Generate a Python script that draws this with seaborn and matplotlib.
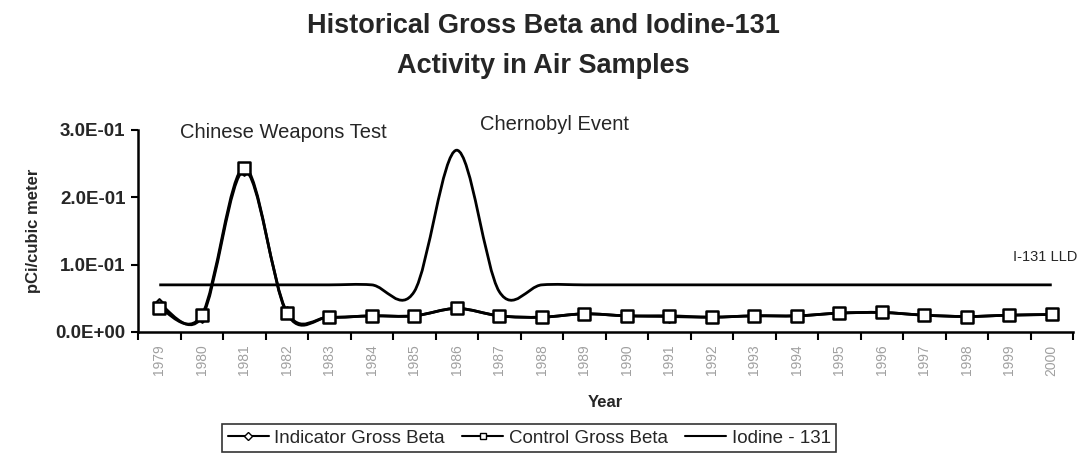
import numpy as np
import pandas as pd
import matplotlib
matplotlib.use("Agg")
import matplotlib.pyplot as plt
import seaborn as sns
from matplotlib.path import Path
from matplotlib.patches import PathPatch
from matplotlib.lines import Line2D

years = [str(y) for y in range(1979, 2001)]
indicator_beta = [0.042, 0.022, 0.240, 0.030, 0.022, 0.024, 0.024, 0.035, 0.024, 0.022, 0.027,
                  0.024, 0.023, 0.022, 0.024, 0.024, 0.028, 0.029, 0.025, 0.023, 0.025, 0.026]
control_beta = [0.036, 0.025, 0.244, 0.028, 0.022, 0.024, 0.024, 0.035, 0.024, 0.022, 0.027,
                0.024, 0.024, 0.022, 0.024, 0.024, 0.028, 0.029, 0.025, 0.023, 0.025, 0.026]
iodine_131 = [0.070, 0.070, 0.070, 0.070, 0.070, 0.070, 0.060, 0.270, 0.060, 0.070, 0.070,
              0.070, 0.070, 0.070, 0.070, 0.070, 0.070, 0.070, 0.070, 0.070, 0.070, 0.070]
y_ticks = [0.0, 0.1, 0.2, 0.3]

sns.set_theme(style="white")
plt.rcParams["font.family"] = ["Liberation Sans", "DejaVu Sans"]

df = pd.DataFrame({"Year": years, "Indicator": indicator_beta,
                   "Control": control_beta, "Iodine": iodine_131})
df["pos"] = np.arange(len(df))

fig = plt.figure(figsize=(10.86, 4.68), dpi=100)
ax = fig.add_axes([138 / 1086, 1 - 332 / 468, (1073 - 138) / 1086, (332 - 130) / 468])


def smooth_patch(xs, ys, **kw):
    """Excel-style smoothed line: cubic Bezier segments through the points."""
    xs = np.asarray(xs, float)
    ys = np.asarray(ys, float)
    n = len(xs)
    verts = [(xs[0], ys[0])]
    codes = [Path.MOVETO]
    for i in range(n - 1):
        a = max(i - 1, 0)
        d = min(i + 2, n - 1)
        c1 = (xs[i] + (xs[i + 1] - xs[a]) / 6, ys[i] + (ys[i + 1] - ys[a]) / 6)
        c2 = (xs[i + 1] - (xs[d] - xs[i]) / 6, ys[i + 1] - (ys[d] - ys[i]) / 6)
        verts += [c1, c2, (xs[i + 1], ys[i + 1])]
        codes += [Path.CURVE4] * 3
    return PathPatch(Path(verts, codes), fill=False, **kw)


lw = 2.0
ax.add_patch(smooth_patch(df["pos"], df["Iodine"], edgecolor="black", lw=lw, zorder=2))
ax.add_patch(smooth_patch(df["pos"], df["Indicator"], edgecolor="black", lw=lw, zorder=3))
ax.add_patch(smooth_patch(df["pos"], df["Control"], edgecolor="black", lw=lw, zorder=4))

sns.scatterplot(data=df, x="pos", y="Indicator", marker="D", s=30, facecolor="white",
                edgecolor="black", linewidth=1.5, ax=ax, zorder=5, legend=False)
sns.scatterplot(data=df, x="pos", y="Control", marker="s", s=70, facecolor="white",
                edgecolor="black", linewidth=1.8, ax=ax, zorder=6, legend=False)

ax.set_xlim(-0.5, len(years) - 0.5)
ax.set_ylim(0, 0.3)
ax.set_xticks(df["pos"])
ax.set_xticklabels(years, rotation=90, fontsize=10, color="#a0a0a0")
ax.set_xticks(np.arange(-0.5, len(years)), minor=True)
ax.tick_params(axis="x", which="major", length=0, pad=9)
ax.tick_params(axis="x", which="minor", length=6, width=1.5, color="black", direction="out", bottom=True)
ax.set_yticks(y_ticks)
ax.set_yticklabels([f"{v:.1E}" for v in y_ticks], fontsize=13.5, fontweight="bold")
ax.tick_params(axis="y", length=5, width=1.5, color="black", direction="out", left=True, pad=4)

for s in ["top", "right"]:
    ax.spines[s].set_visible(False)
for s in ["left", "bottom"]:
    ax.spines[s].set_color("black")
    ax.spines[s].set_linewidth(1.8)

ax.set_xlabel("Year", fontsize=12, fontweight="bold", labelpad=14)
ax.set_ylabel("pCi/cubic meter", fontsize=12, fontweight="bold", labelpad=10)

ax.text(0.49, 0.297, "Chinese Weapons Test", fontsize=14.5, va="center", ha="left", clip_on=False)
ax.text(7.55, 0.3076, "Chernobyl Event", fontsize=14.5, va="center", ha="left", clip_on=False)
ax.text(20.09, 0.111, "I-131 LLD", fontsize=10.5, va="center", ha="left", clip_on=False)

fig.text(0.5, 1 - 26 / 468, "Historical Gross Beta and Iodine-131", fontsize=19.5,
         fontweight="bold", ha="center", va="center")
fig.text(0.5, 1 - 66 / 468, "Activity in Air Samples", fontsize=19.5,
         fontweight="bold", ha="center", va="center")

handles = [
    Line2D([0], [0], color="black", lw=1.5, marker="D", markersize=4,
           markerfacecolor="white", markeredgecolor="black"),
    Line2D([0], [0], color="black", lw=1.5, marker="s", markersize=5,
           markerfacecolor="white", markeredgecolor="black"),
    Line2D([0], [0], color="black", lw=1.5),
]
leg = fig.legend(handles, ["Indicator Gross Beta", "Control Gross Beta", "Iodine - 131"],
                 loc="upper left", bbox_to_anchor=(222 / 1086, 1 - 424 / 468), ncol=3,
                 fontsize=13.5, frameon=True, fancybox=False, handlelength=2.2,
                 handletextpad=0.3, columnspacing=0.9, borderpad=0.3, borderaxespad=0)
leg.get_frame().set_edgecolor("black")
leg.get_frame().set_linewidth(1.2)

fig.savefig("out.png", dpi=100, facecolor="white")
